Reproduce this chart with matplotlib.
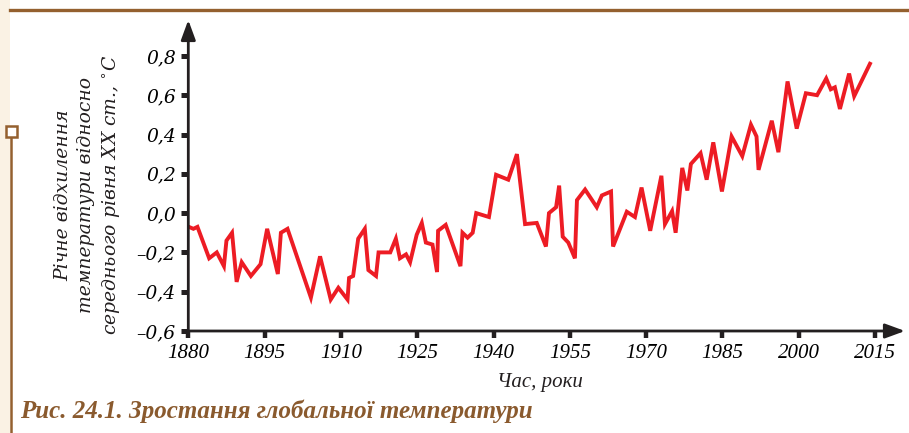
import numpy as np
import matplotlib
matplotlib.use("Agg")
import matplotlib.pyplot as plt
from matplotlib.patches import Rectangle
from matplotlib.lines import Line2D

# annual global temperature anomaly, °C
years = [1880.1, 1881.0, 1881.8, 1884.1, 1885.6, 1887.0, 1887.5, 1888.6, 1889.5, 1890.5,
         1892.3, 1894.2, 1895.5, 1897.6, 1898.2, 1899.5, 1904.1, 1905.9, 1908.0, 1909.5,
         1911.3, 1911.6, 1912.4, 1913.4, 1914.7, 1915.4, 1916.9, 1917.4, 1919.7, 1920.8,
         1921.6, 1922.8, 1923.6, 1924.9, 1925.9, 1926.7, 1928.0, 1928.9, 1929.1, 1930.6,
         1933.5, 1933.9, 1934.9, 1935.9, 1936.6, 1939.1, 1940.5, 1942.9, 1944.6, 1946.2,
         1948.5, 1950.3, 1950.9, 1952.3, 1952.9, 1953.6, 1954.7, 1956.0, 1956.4, 1958.0,
         1960.3, 1961.3, 1963.1, 1963.5, 1966.2, 1967.8, 1969.1, 1970.8, 1973.0, 1973.7,
         1975.1, 1975.8, 1977.1, 1978.1, 1978.8, 1980.7, 1981.9, 1983.2, 1984.9, 1986.8,
         1988.9, 1990.6, 1991.7, 1992.1, 1994.7, 1996.0, 1997.8, 1999.6, 2001.4, 2003.6,
         2005.4, 2006.3, 2007.1, 2008.1, 2009.9, 2010.9, 2014.0]
anomaly = [-0.07, -0.08, -0.07, -0.23, -0.20, -0.27, -0.14, -0.10, -0.35, -0.25,
           -0.32, -0.26, -0.08, -0.31, -0.10, -0.08, -0.43, -0.22, -0.44, -0.38,
           -0.44, -0.33, -0.32, -0.13, -0.08, -0.29, -0.32, -0.20, -0.20, -0.13,
           -0.23, -0.21, -0.25, -0.11, -0.05, -0.15, -0.16, -0.30, -0.09, -0.06,
           -0.27, -0.10, -0.125, -0.10, 0.00, -0.02, 0.195, 0.17, 0.30, -0.056,
           -0.05, -0.17, 0.00, 0.03, 0.14, -0.12, -0.15, -0.23, 0.066, 0.12,
           0.03, 0.09, 0.11, -0.17, 0.007, -0.02, 0.13, -0.09, 0.19, -0.056,
           0.01, -0.10, 0.23, 0.115, 0.25, 0.305, 0.17, 0.36, 0.11, 0.39,
           0.29, 0.45, 0.39, 0.22, 0.47, 0.31, 0.67, 0.43, 0.61, 0.60,
           0.685, 0.63, 0.64, 0.53, 0.71, 0.595, 0.76]

xticks = [1880, 1895, 1910, 1925, 1940, 1955, 1970, 1985, 2000, 2015]
yticks = [-0.6, -0.4, -0.2, 0.0, 0.2, 0.4, 0.6, 0.8]
ytick_labels = ["\u20130,6", "\u20130,4", "\u20130,2", "0,0", "0,2", "0,4", "0,6", "0,8"]

ylabel = "Річне відхилення\nтемператури відносно\nсереднього рівня XX ст., $^{\\circ}$C"
xlabel = "Час, роки"
caption = "Рис. 24.1. Зростання глобальної температури"

W, H = 909, 433
ink = "#231f20"
brown = "#94602f"

fig = plt.figure(figsize=(W / 100, H / 100), dpi=100)


def fx(px):
    return px / W


def fy(py):
    return 1 - py / H


# page background strip on the left and frame lines
fig.patches.append(Rectangle((0, 0), fx(10), 1, transform=fig.transFigure,
                             facecolor="#faf2e4", edgecolor="none", zorder=0))
fig.lines.append(Line2D([fx(10), 1], [fy(10), fy(10)], transform=fig.transFigure,
                        color=brown, lw=2.4))
fig.lines.append(Line2D([fx(11), fx(11)], [fy(138), 0], transform=fig.transFigure,
                        color=brown, lw=1.8))
fig.patches.append(Rectangle((fx(5.5), fy(137)), fx(11), 11 / H, transform=fig.transFigure,
                             facecolor="white", edgecolor=brown, lw=1.8))

x0, x1 = 188.3, 905
y0, y1 = 331, 20
ax = fig.add_axes([fx(x0), fy(y0), fx(x1 - x0), (y0 - y1) / H])
ax.set_xlim(1880, 1880 + (x1 - x0) / 5.087)
ax.set_ylim(-0.6, -0.6 + (y0 - y1) / 196.5)
ax.patch.set_alpha(0)
for s in ax.spines.values():
    s.set_visible(False)

ax.plot(years, anomaly, color="#ed1c24", lw=2.8, solid_joinstyle="miter", zorder=3)

# axes with arrow heads
arrow = dict(arrowstyle="-|>,head_length=0.6,head_width=0.22", mutation_scale=20,
             lw=2, color=ink, shrinkA=0, shrinkB=0)
ax.annotate("", xy=(1, 0), xytext=(0, 0), xycoords="axes fraction", arrowprops=arrow)
ax.annotate("", xy=(0, 1), xytext=(0, 0), xycoords="axes fraction", arrowprops=arrow)

ax.set_xticks(xticks)
ax.set_xticklabels([str(t) for t in xticks], family="Liberation Serif",
                   style="italic", fontsize=15)
ax.set_yticks(yticks)
ax.set_yticklabels(ytick_labels, family="DejaVu Serif", style="italic", fontsize=13.5)
ax.tick_params(axis="x", direction="out", length=5, width=3.2, color=ink, pad=4)
ax.tick_params(axis="y", direction="out", length=5, width=3.6, color=ink, pad=4)

fig.text(fx(88), fy(195), ylabel, rotation=90, ha="center", va="center",
         multialignment="center", family="DejaVu Serif", style="italic",
         fontsize=13.5, linespacing=1.3, color=ink)
fig.text(fx(540), fy(383), xlabel, ha="center", va="center",
         family="Liberation Serif", style="italic", fontsize=15, color=ink)
fig.text(fx(20), fy(411), caption, ha="left", va="center",
         family="Liberation Serif", style="italic", weight="bold",
         fontsize=18, color="#8a5a2e")

fig.savefig("out.png", dpi=100)
